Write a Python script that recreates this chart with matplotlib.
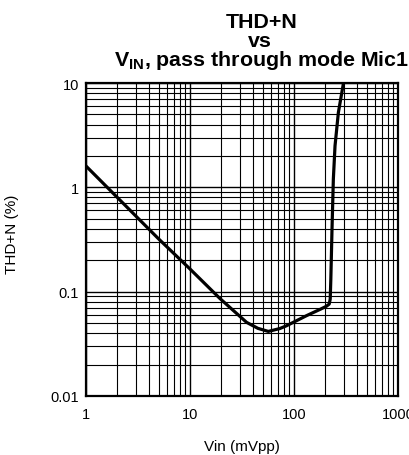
import matplotlib.pyplot as plt
import numpy as np

plt.rcParams['font.family'] = ['Liberation Sans', 'DejaVu Sans']
plt.rcParams['mathtext.fontset'] = 'custom'
plt.rcParams['mathtext.rm'] = 'Liberation Sans'
plt.rcParams['mathtext.bf'] = 'Liberation Sans:bold'

# datos
vin = [1, 2, 5, 10, 19.4, 35, 45, 56.6, 73, 85, 132, 180, 205, 218, 223,
       226, 232, 239, 248, 267, 298, 312]
thd = [1.6, 0.8, 0.32, 0.165, 0.086, 0.0508, 0.0445, 0.0416, 0.0443, 0.0472,
       0.0589, 0.068, 0.0725, 0.076, 0.085, 0.132, 0.398, 1.2, 2.5, 5.2, 9.8, 11]

x_ticks = [1, 10, 100, 1000]
x_ticklabels = ['1', '10', '100', '1000']
y_ticks = [0.01, 0.1, 1, 10]
y_ticklabels = ['0.01', '0.1', '1', '10']

fig = plt.figure(figsize=(4.09, 4.56), dpi=100)
ax = fig.add_axes([86 / 409, 59 / 456, 312 / 409, 313 / 456])

ax.plot(vin, thd, color='black', linewidth=2.3, solid_joinstyle='round')
ax.set_xscale('log')
ax.set_yscale('log')
ax.set_xlim(1, 1000)
ax.set_ylim(0.01, 10)

ax.set_xticks(x_ticks)
ax.set_xticklabels(x_ticklabels)
ax.set_yticks(y_ticks)
ax.set_yticklabels(y_ticklabels)
ax.tick_params(which='both', length=0, labelsize=10.5)
ax.tick_params(axis='x', pad=8)
ax.tick_params(axis='y', pad=5)

ax.grid(True, which='major', color='black', linewidth=1.0)
ax.grid(True, which='minor', color='black', linewidth=0.8)
ax.set_axisbelow(True)
for s in ax.spines.values():
    s.set_linewidth(1.6)

ax.set_xlabel('Vin (mVpp)', fontsize=11)
ax.xaxis.set_label_coords(0.5, (397 - 447) / 313)
ax.xaxis.label.set_va('center')
ax.set_ylabel('THD+N (%)', fontsize=11)
ax.yaxis.set_label_coords(-0.215, 0.52)

# titulo en tres lineas
fig.text(262 / 409, 1 - 28 / 456, 'THD+N', fontsize=15.4, fontweight='bold',
         ha='center', va='baseline')
fig.text(260 / 409, 1 - 47 / 456, 'vs', fontsize=15.4, fontweight='bold',
         ha='center', va='baseline')
fig.text(261.5 / 409, 1 - 66 / 456, r'V$_{\mathbf{IN}}$, pass through mode Mic1',
         fontsize=15.4, fontweight='bold', ha='center', va='baseline')

fig.savefig('out.png', dpi=100)
plt.close()
